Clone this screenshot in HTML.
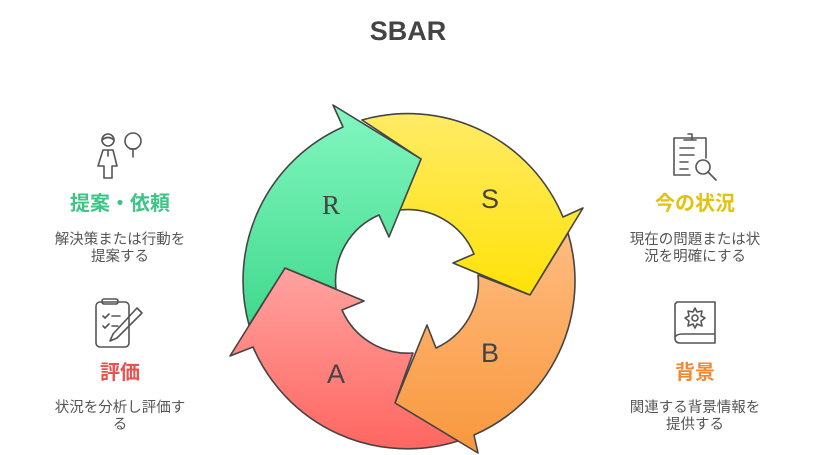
<!DOCTYPE html>
<html><head><meta charset="utf-8"><style>
html,body{margin:0;padding:0;background:#fff;}
svg{display:block;}
text{font-family:"Liberation Sans","Noto Sans CJK JP",sans-serif;}
</style></head><body>
<svg width="816" height="455" viewBox="0 0 816 455" xmlns="http://www.w3.org/2000/svg">
<defs>
<linearGradient id="gG" x1="0" y1="0" x2="0" y2="1"><stop offset="0" stop-color="#83f7c1"/><stop offset="1" stop-color="#40d98c"/></linearGradient>
<linearGradient id="gY" x1="0" y1="0" x2="0" y2="1"><stop offset="0" stop-color="#ffeb66"/><stop offset="1" stop-color="#ffe208"/></linearGradient>
<linearGradient id="gO" x1="0" y1="0" x2="0" y2="1"><stop offset="0" stop-color="#ffbb80"/><stop offset="1" stop-color="#f8983d"/></linearGradient>
<linearGradient id="gR" x1="0" y1="0" x2="0" y2="1"><stop offset="0" stop-color="#ffa3a0"/><stop offset="1" stop-color="#ff6661"/></linearGradient>
</defs>
<text x="408" y="40" text-anchor="middle" font-size="27" font-weight="bold" fill="#444">SBAR</text>
<g stroke="#444" stroke-width="1.6" stroke-linejoin="round">
<path fill="url(#gY)" d="M362,120 A168,168 0 0 1 563,217 L583,208 L530,295 L453,263 L474,254 A72,72 0 0 0 400,210 L421,159 Z"/>
<path fill="url(#gO)" d="M568,233 A168,168 0 0 1 474,435 L478,453 L395,403 L427,325 L436,348 A72,72 0 0 0 478,275 L530,295 Z"/>
<path fill="url(#gR)" d="M458,441 A168,168 0 0 1 253,347 L230,356 L285,268 L364,301 L342,310 A72,72 0 0 0 413,353 L395,403 Z"/>
<path fill="url(#gG)" d="M249,325 A168,168 0 0 1 343,127 L333,105 L421,159 L389,237 L379,215 A72,72 0 0 0 336,289 L285,268 Z"/>
</g>
<g fill="#444" font-size="27">
<text x="331" y="214" text-anchor="middle" style="font-family:'Liberation Serif',serif">R</text>
<text x="490" y="208" text-anchor="middle">S</text>
<text x="490" y="362" text-anchor="middle">B</text>
<text x="336" y="383" text-anchor="middle">A</text>
</g>
<g fill="none" stroke="#555" stroke-width="1.6" stroke-linecap="round" stroke-linejoin="round">
<circle cx="108" cy="140" r="6"/><path d="M102,140 Q108,135 114,140"/>
<path d="M103,150 L113,150 L117,166 L112,166 L112,178 L104,178 L104,166 L98,166 Z M108,150 L108,156"/>
<circle cx="133" cy="141" r="8"/><path d="M130,149 L136,149 M133,149 L133,157"/>
<rect x="96" y="302" width="33" height="45" rx="4"/><rect x="102" y="299" width="16" height="5" rx="2"/>
<path d="M103,316 l2,2 l4,-4 M112,316 L120,316 M103,326 l2,2 l4,-4 M112,326 L118,326"/>
<path d="M137,308 L142,313 L117,338 L110,341 L113,334 Z"/>
</g>
<g fill="none" stroke="#555" stroke-width="1.6" stroke-linecap="round" stroke-linejoin="round">
<path d="M690,175 L674,175 L674,138 L706,138 L706,158"/><path d="M688,134 L692,134 L692,140 M684,140 L696,140"/>
<path d="M680,148 L694,148 M680,155 L694,155 M680,162 L688,162 M680,169 L688,169"/>
<circle cx="703" cy="167" r="7"/><path d="M708,172 L716,180"/>
<path d="M677,302 L715,302 L715,343 L680,343 Q675,343 675,338 L675,304 Z M675,337 Q677,334 682,334 L715,334"/>
<circle cx="695" cy="318" r="3"/>
<path d="M695,308 L697,312 L702,311 L701,316 L705,318 L701,321 L702,326 L697,324 L695,328 L693,324 L688,326 L689,321 L685,318 L689,316 L688,311 L693,312 Z"/>
</g>
<g text-anchor="middle">
<text x="120" y="210" font-size="20" font-weight="bold" fill="#3ec486">提案・依頼</text>
<text x="120" y="244" font-size="14.5" fill="#555">解決策または行動を</text>
<text x="120" y="261" font-size="14.5" fill="#555">提案する</text>
<text x="120" y="379" font-size="20" font-weight="bold" fill="#e8524f">評価</text>
<text x="120" y="412" font-size="14.5" fill="#555">状況を分析し評価す</text>
<text x="120" y="429" font-size="14.5" fill="#555">る</text>
<text x="695" y="210" font-size="20" font-weight="bold" fill="#e2c20a">今の状況</text>
<text x="695" y="244" font-size="14.5" fill="#555">現在の問題または状</text>
<text x="695" y="261" font-size="14.5" fill="#555">況を明確にする</text>
<text x="695" y="379" font-size="20" font-weight="bold" fill="#ef8a34">背景</text>
<text x="695" y="412" font-size="14.5" fill="#555">関連する背景情報を</text>
<text x="695" y="429" font-size="14.5" fill="#555">提供する</text>
</g>
</svg>
</body></html>
